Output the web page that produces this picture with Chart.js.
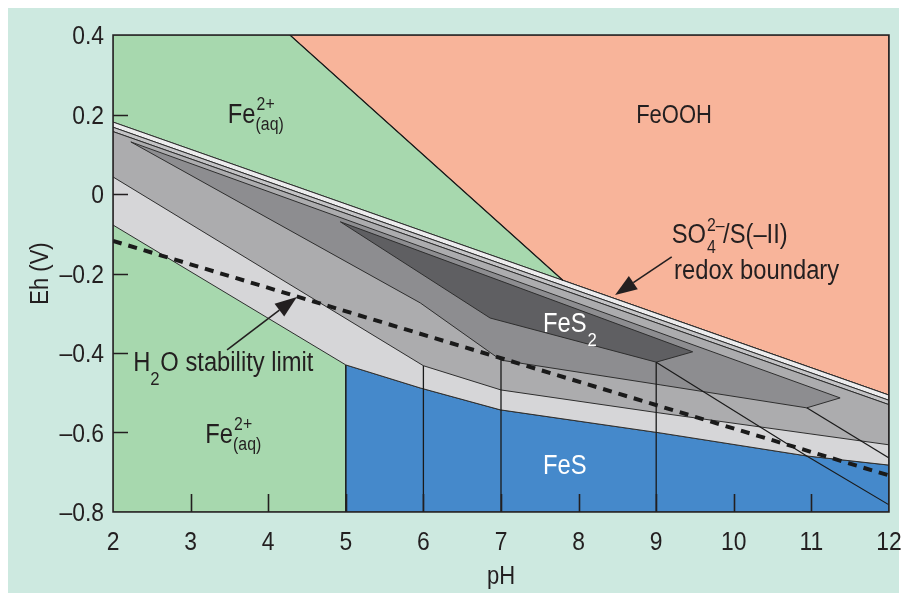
<!DOCTYPE html>
<html>
<head>
<meta charset="utf-8">
<script src="https://cdn.jsdelivr.net/npm/chart.js@4.4.0/dist/chart.umd.min.js"></script>
<style>
  html, body { margin: 0; padding: 0; background: #ffffff; }
  #panel { position: absolute; left: 8px; top: 8px; width: 891px; height: 585px; background: #cde9e0; }
  #pourbaix { position: absolute; left: 0; top: 0; }
</style>
</head>
<body>
<div id="panel"></div>
<canvas id="pourbaix" width="907" height="593"></canvas>
<script>
// Axis ranges (pH on x, Eh in volts on y)
const phRange = [2, 12];
const ehRange = [-0.8, 0.4];
const phTicks = [2, 3, 4, 5, 6, 7, 8, 9, 10, 11, 12];
const ehTicks = [0.4, 0.2, 0, -0.2, -0.4, -0.6, -0.8];
const ehInnerTicks = [0.2, 0, -0.2, -0.4, -0.6];
const phInnerTicks = [3, 4, 5, 6, 7, 8, 9, 10, 11];

// Field boundaries as [pH, Eh] pairs
const feoohEdge = [[4.28, 0.4], [7.8, -0.2175]];
const redoxTop = [[2, 0.181], [12, -0.506]];
const stripeLight = [[2, 0.168], [12, -0.519]];
const stripeGray = [[2, 0.157], [12, -0.530]];
const edgeLow = [[2, -0.078], [5, -0.430], [5.96, -0.488], [6.99, -0.543], [9.05, -0.601], [10.94, -0.659], [12, -0.682]];
const edgeMid = [[2, 0.043], [6, -0.432], [7, -0.493], [9.05, -0.551], [12, -0.631]];
const wedgeDark = [[2.23, 0.131], [5.96, -0.274], [7, -0.418], [9.05, -0.480], [10.94, -0.538], [11.37, -0.513]];
const fes2Core = [[4.93, -0.070], [6.86, -0.312], [9, -0.423], [9.47, -0.397]];
const h2oLimit = [[2, -0.118], [12, -0.708]];
const fesVerticals = [[5, -0.430], [6, -0.432], [7, -0.418], [9, -0.423]];
const steepLine = [[9, -0.423], [10.94, -0.659], [12, -0.782]];
const wedgeTail = [[10.94, -0.538], [12, -0.664]];

// Call-out arrows [pH, Eh] from tail to head
const redoxArrow = [[9.20, -0.158], [8.47, -0.254]];
const h2oArrow = [[3.47, -0.392], [4.37, -0.259]];

const FONT = '"Liberation Sans", Arial, sans-serif';
const SQUEEZE = 0.88;
const INK = '#231f20';
const EDGE = '#2e2e2e';

const pts = arr => arr.map(([x, y]) => ({ x, y }));
const closed = arr => pts(arr.concat([arr[0]]));
const rev = a => a.slice().reverse();

function poly(data, color) {
  return { data, showLine: true, fill: 'shape', backgroundColor: color, borderColor: EDGE, borderWidth: 1, pointRadius: 0, tension: 0 };
}
function line(data, width, dash) {
  return { data, showLine: true, fill: false, borderColor: '#1a1a1a', borderWidth: width, borderDash: dash || [], pointRadius: 0, tension: 0 };
}

// Back-to-front list of shapes
const layers = [
  poly(closed([[phRange[0], ehRange[1]], [phRange[1], ehRange[1]], [phRange[1], ehRange[0]], [phRange[0], ehRange[0]]]), '#a7d8ae'),
  poly(closed([feoohEdge[0], [phRange[1], ehRange[1]], redoxTop[1], feoohEdge[1]]), '#f8b49a'),
  poly(closed([[5, ehRange[0]]].concat(edgeLow.slice(1)).concat([[12, ehRange[0]]])), '#4589cb'),
  poly(closed([redoxTop[0], redoxTop[1]].concat(rev(edgeLow))), '#d6d6d8'),
  poly(closed([redoxTop[0], redoxTop[1], stripeLight[1], stripeLight[0]]), '#ececed'),
  poly(closed([stripeLight[0], stripeLight[1], stripeGray[1], stripeGray[0]]), '#c3c3c5'),
  poly(closed([stripeGray[0], stripeGray[1]].concat(rev(edgeMid))), '#acacae'),
  poly(closed(wedgeDark), '#8d8d90'),
  poly(closed(fes2Core), '#5f5f62'),
  line(pts(feoohEdge), 1.2),
  line(pts(steepLine), 1.2),
  line(pts(wedgeTail), 1.2),
  ...fesVerticals.map(([x, y]) => line(pts([[x, ehRange[0]], [x, y]]), 1.3)),
  line(pts(h2oLimit), 4, [9, 7])
];
layers.forEach((d, i) => { d.order = layers.length - i; });

// Condensed text: the face is squeezed horizontally
function drawText(ctx, s, x, y, size, color, align, baseline) {
  ctx.save();
  ctx.font = size + 'px ' + FONT;
  ctx.fillStyle = color;
  ctx.textBaseline = baseline || 'alphabetic';
  const w = ctx.measureText(s).width * SQUEEZE;
  let x0 = x;
  if (align === 'center') x0 = x - w / 2;
  else if (align === 'right') x0 = x - w;
  ctx.translate(x0, y);
  ctx.scale(SQUEEZE, 1);
  ctx.textAlign = 'left';
  ctx.fillText(s, 0, 0);
  ctx.restore();
  return w;
}

function arrow(ctx, from, to) {
  const dx = to[0] - from[0], dy = to[1] - from[1];
  const len = Math.hypot(dx, dy), ux = dx / len, uy = dy / len;
  const hl = 22, hw = 8;
  const bx = to[0] - ux * hl, by = to[1] - uy * hl;
  ctx.strokeStyle = INK;
  ctx.lineWidth = 1.6;
  ctx.beginPath();
  ctx.moveTo(from[0], from[1]);
  ctx.lineTo(bx, by);
  ctx.stroke();
  ctx.fillStyle = INK;
  ctx.beginPath();
  ctx.moveTo(to[0], to[1]);
  ctx.lineTo(bx - uy * hw, by + ux * hw);
  ctx.lineTo(bx + uy * hw, by - ux * hw);
  ctx.closePath();
  ctx.fill();
}

const ehLabel = v => (v === 0 ? '0' : (v < 0 ? '\u2013' + Math.abs(v).toFixed(1) : v.toFixed(1)));

// Frame, inward ticks, tick labels, field labels and call-outs
const annotations = {
  id: 'annotations',
  afterDatasetsDraw(chart) {
    const { ctx, chartArea: a, scales: { x, y } } = chart;
    const px = (p) => [x.getPixelForValue(p[0]), y.getPixelForValue(p[1])];
    ctx.save();
    ctx.strokeStyle = INK;
    ctx.lineWidth = 1.5;
    ctx.strokeRect(a.left, a.top, a.right - a.left, a.bottom - a.top);
    ctx.lineWidth = 1.6;
    ctx.beginPath();
    ehInnerTicks.forEach(v => { const py = Math.round(y.getPixelForValue(v)) + 0.5; ctx.moveTo(a.left, py); ctx.lineTo(a.left + 15, py); });
    phInnerTicks.forEach(v => { const xx = Math.round(x.getPixelForValue(v)) + 0.5; ctx.moveTo(xx, a.bottom); ctx.lineTo(xx, a.bottom - 18); });
    ctx.stroke();

    ehTicks.forEach(v => drawText(ctx, ehLabel(v), a.left - 9, y.getPixelForValue(v) + 9, 26, INK, 'right'));
    phTicks.forEach(v => drawText(ctx, String(v), x.getPixelForValue(v), a.bottom + 38, 26, INK, 'center'));

    // FeOOH
    let p = px([9.23, 0.179]);
    drawText(ctx, 'FeOOH', p[0], p[1], 25, INK, 'center');

    // Fe2+(aq), upper and lower
    [[3.48, 0.179], [3.19, -0.626]].forEach(q => {
      const [fx, fy] = px(q);
      const w = drawText(ctx, 'Fe', fx, fy, 27, INK);
      drawText(ctx, '2+', fx + w + 1, fy - 13, 18, INK);
      drawText(ctx, '(aq)', fx + w, fy + 7, 18, INK);
    });

    // FeS2 and FeS
    p = px([7.54, -0.347]);
    let w = drawText(ctx, 'FeS', p[0], p[1], 27, '#ffffff');
    drawText(ctx, '2', p[0] + w + 1, p[1] + 14, 19, '#ffffff');
    p = px([7.54, -0.704]);
    drawText(ctx, 'FeS', p[0], p[1], 27, '#ffffff');

    // SO4 2-/S(-II) redox boundary
    p = px([9.20, -0.123]);
    w = drawText(ctx, 'SO', p[0], p[1], 27, INK);
    drawText(ctx, '2\u2013', p[0] + w + 1, p[1] - 12, 18, INK);
    drawText(ctx, '4', p[0] + w + 1, p[1] + 10, 18, INK);
    drawText(ctx, '/S(\u2013II)', p[0] + w + 17, p[1], 27, INK);
    p = px([9.23, -0.214]);
    drawText(ctx, 'redox boundary', p[0], p[1], 27, INK);
    arrow(ctx, px(redoxArrow[0]), px(redoxArrow[1]));

    // H2O stability limit
    p = px([2.26, -0.445]);
    w = drawText(ctx, 'H', p[0], p[1], 27, INK);
    drawText(ctx, '2', p[0] + w, p[1] + 14, 19, INK);
    drawText(ctx, 'O stability limit', p[0] + w + 10, p[1], 27, INK);
    arrow(ctx, px(h2oArrow[0]), px(h2oArrow[1]));

    // Axis titles
    drawText(ctx, 'pH', (a.left + a.right) / 2, 584, 25, INK, 'center');
    ctx.translate(48, (a.top + a.bottom) / 2);
    ctx.rotate(-Math.PI / 2);
    drawText(ctx, 'Eh (V)', 0, 0, 25, INK, 'center');
    ctx.restore();
  }
};

new Chart(document.getElementById('pourbaix'), {
  type: 'scatter',
  data: { datasets: layers },
  options: {
    responsive: false,
    animation: false,
    events: [],
    layout: { padding: { top: 35, right: 18, left: 0, bottom: 0 } },
    plugins: { legend: { display: false }, tooltip: { enabled: false }, filler: { propagate: false } },
    scales: {
      x: {
        type: 'linear', min: phRange[0], max: phRange[1],
        grid: { display: false, drawTicks: false },
        border: { display: false },
        ticks: { display: false },
        afterFit: s => { s.height = 81; }
      },
      y: {
        type: 'linear', min: ehRange[0], max: ehRange[1],
        grid: { display: false, drawTicks: false },
        border: { display: false },
        ticks: { display: false },
        afterFit: s => { s.width = 113; }
      }
    }
  },
  plugins: [annotations]
});
</script>
</body>
</html>
